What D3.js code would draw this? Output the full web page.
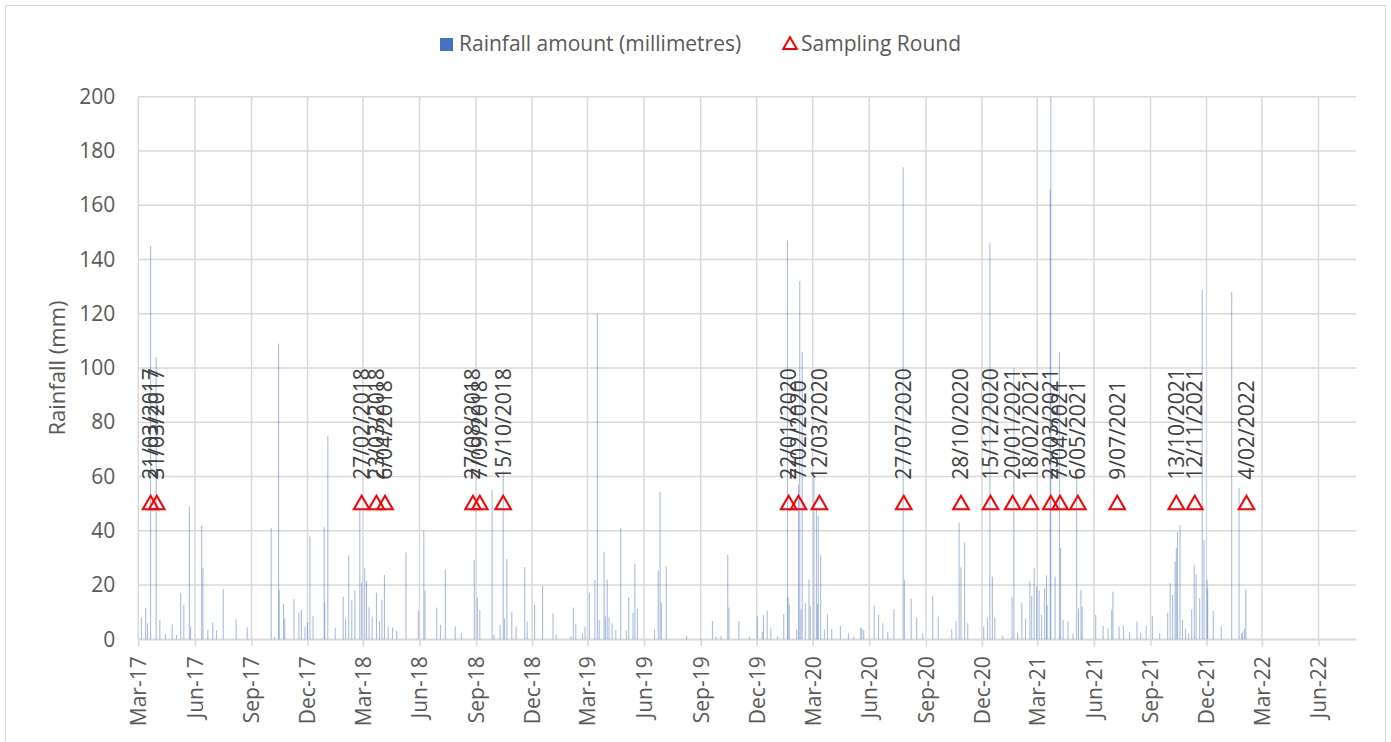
<!DOCTYPE html>
<html><head><meta charset="utf-8">
<script src="https://cdn.jsdelivr.net/npm/d3@7"></script>
<style>body{margin:0;background:#fff;} svg{display:block;font-family:"Open Sans",sans-serif;}</style>
</head><body><svg id="c" width="1391" height="742"></svg>
<script>
const rainDates = [
"2017-03-06","2017-03-13","2017-03-16","2017-03-21","2017-03-30","2017-04-05","2017-04-14","2017-04-25","2017-05-02","2017-05-09",
"2017-05-14","2017-05-23","2017-05-25","2017-06-12","2017-06-14","2017-06-22","2017-06-30","2017-07-06","2017-07-17","2017-08-07",
"2017-08-25","2017-10-03","2017-10-08","2017-10-15","2017-10-16","2017-10-23","2017-10-25","2017-11-09","2017-11-17","2017-11-21",
"2017-11-27","2017-12-01","2017-12-05","2017-12-10","2017-12-28","2017-12-29","2018-01-03","2018-01-15","2018-01-28","2018-02-01",
"2018-02-06","2018-02-11","2018-02-16","2018-02-24","2018-02-27","2018-03-04","2018-03-07","2018-03-11","2018-03-16","2018-03-23",
"2018-03-28","2018-04-01","2018-04-05","2018-04-11","2018-04-18","2018-04-25","2018-05-10","2018-05-30","2018-06-08","2018-06-10",
"2018-06-29","2018-07-05","2018-07-13","2018-07-29","2018-08-08","2018-08-29","2018-09-03","2018-09-07","2018-09-27","2018-09-30",
"2018-10-10","2018-10-15","2018-10-17","2018-10-21","2018-10-29","2018-11-05","2018-11-19","2018-11-23","2018-12-05","2018-12-18",
"2019-01-04","2019-01-09","2019-02-02","2019-02-06","2019-02-10","2019-02-21","2019-02-25","2019-03-04","2019-03-13","2019-03-17",
"2019-03-20","2019-03-28","2019-03-30","2019-04-02","2019-04-05","2019-04-10","2019-04-16","2019-04-24","2019-05-03","2019-05-07",
"2019-05-14","2019-05-17","2019-05-21","2019-06-18","2019-06-24","2019-06-27","2019-06-29","2019-07-07","2019-08-09","2019-09-01",
"2019-09-20","2019-09-26","2019-10-04","2019-10-15","2019-10-17","2019-11-02","2019-11-19","2019-12-02","2019-12-10","2019-12-12",
"2019-12-18","2019-12-24","2020-01-04","2020-01-14","2020-01-20","2020-01-21","2020-01-23","2020-02-04","2020-02-07","2020-02-09",
"2020-02-11","2020-02-13","2020-02-18","2020-02-24","2020-02-26","2020-03-03","2020-03-07","2020-03-09","2020-03-10","2020-03-14",
"2020-03-20","2020-03-25","2020-04-01","2020-04-15","2020-04-28","2020-05-07","2020-05-18","2020-05-20","2020-05-23","2020-06-09",
"2020-06-16","2020-06-23","2020-07-01","2020-07-11","2020-07-26","2020-07-28","2020-08-08","2020-08-17","2020-08-27","2020-09-12",
"2020-09-21","2020-10-13","2020-10-20","2020-10-25","2020-10-28","2020-11-03","2020-11-08","2020-12-04","2020-12-10","2020-12-14",
"2020-12-18","2020-12-22","2021-01-04","2021-01-19","2021-01-22","2021-01-28","2021-02-04","2021-02-10","2021-02-17","2021-02-20",
"2021-02-24","2021-02-28","2021-03-04","2021-03-08","2021-03-13","2021-03-16","2021-03-17","2021-03-22","2021-03-23","2021-03-30",
"2021-04-06","2021-04-08","2021-04-12","2021-04-20","2021-04-28","2021-05-04","2021-05-07","2021-05-11","2021-05-13","2021-06-04",
"2021-06-16","2021-06-24","2021-06-30","2021-07-02","2021-07-12","2021-07-19","2021-07-29","2021-08-10","2021-08-16","2021-08-25",
"2021-09-04","2021-09-16","2021-09-29","2021-10-03","2021-10-07","2021-10-11","2021-10-13","2021-10-15","2021-10-19","2021-10-23",
"2021-10-28","2021-11-02","2021-11-07","2021-11-11","2021-11-14","2021-11-20","2021-11-24","2021-11-27","2021-12-02","2021-12-03",
"2021-12-12","2021-12-25","2022-01-11","2022-01-23","2022-01-27","2022-01-29","2022-02-01","2022-02-03"
];
const rainMm = [
8.1,11.6,5.9,145,104,7.1,2,5.5,1.6,17,
12.7,49,4.7,41.8,26.2,3.4,6.3,3.4,18.5,7.4,
4.4,41,1,109,18.2,13,7.7,14.8,9.8,10.8,
4.7,6.3,37.9,8.6,41.3,13.5,75,4.3,15.7,7.7,
30.9,14.5,18,48,21,26.2,21.5,11.8,8.4,17.2,
6.5,14.5,23.7,4.7,4.4,3.2,32,10.6,40.1,18,
11.7,5.3,25.8,4.7,2.2,29.3,15.5,10.8,55,1.6,
5.3,62,7.7,29.6,10.2,4.7,26.6,6.5,12.7,19.7,
9.6,1.6,1.2,11.7,5.7,2.2,4.7,17.2,21.9,120,
7.1,32.3,8.4,22.1,8.1,5.9,3.4,41,3.2,15.4,
9.8,27.8,11.4,3.7,25.3,54.4,13.5,26.8,1.2,0.4,
6.8,1,1.2,31.1,11.7,6.8,1,8.4,2.8,9,
10.6,4,1.2,9.3,147,15.7,12.8,3.7,57,132,
11,106,13.3,22.1,12.3,60,48,13,45.5,31,
3.7,9.2,3.8,4.9,2.2,1,4.3,4,3.4,12.3,
9,5.9,2.8,11.1,174,21.9,14.9,8,2.2,16,
8.4,3.7,6.8,43,26.5,35.7,5.9,4.7,8,146,
23.1,8.1,1.2,15.4,100,2.5,13.5,7.7,21.3,16,
26.2,19.4,18,9,18.8,23.6,12.7,166,200,23.1,
106,33.6,7.1,6.5,2.2,62,11.4,18.2,12,9,
5,4,10.8,17.6,4.7,5,2.8,6.5,2.5,4.9,
8.6,2.2,9.8,20.7,16.4,28.7,33.5,39.7,42.2,7.1,
4,2.2,11.1,27.5,24,15.1,129,36.5,22,18.5,
10.5,4.7,128,55.7,2.2,3,4,18.4
];
const samplingDates = [
"2017-03-21","2017-03-31","2018-02-27","2018-03-23","2018-04-06","2018-08-27","2018-09-07","2018-10-15",
"2020-01-22","2020-02-07","2020-03-12","2020-07-27","2020-10-28","2020-12-15","2021-01-20","2021-02-18",
"2021-03-23","2021-04-07","2021-05-06","2021-07-09","2021-10-13","2021-11-12","2022-02-04"
];
const samplingLabels = [
"21/03/2017","31/03/2017","27/02/2018","23/03/2018","6/04/2018","27/08/2018","7/09/2018","15/10/2018",
"22/01/2020","7/02/2020","12/03/2020","27/07/2020","28/10/2020","15/12/2020","20/01/2021","18/02/2021",
"23/03/2021","7/04/2021","6/05/2021","9/07/2021","13/10/2021","12/11/2021","4/02/2022"
];
const samplingValues = samplingDates.map(() => 50);
const xTickDates = ["2017-03-01","2017-06-01","2017-09-01","2017-12-01","2018-03-01","2018-06-01","2018-09-01","2018-12-01",
"2019-03-01","2019-06-01","2019-09-01","2019-12-01","2020-03-01","2020-06-01","2020-09-01","2020-12-01",
"2021-03-01","2021-06-01","2021-09-01","2021-12-01","2022-03-01","2022-06-01"];
const yTicks = [0,20,40,60,80,100,120,140,160,180,200];
const legendLabels = ["Rainfall amount (millimetres)","Sampling Round"];
const yTitle = "Rainfall (mm)";

const parse = d3.utcParse("%Y-%m-%d");
const fmt = d3.utcFormat("%b-%y");
const svg = d3.select("#c");
const GRID = "#d9d9d9";

const x = d3.scaleUtc().domain([parse("2017-03-01"), parse("2022-08-01")]).range([138.3, 1356]);
const y = d3.scaleLinear().domain([0,200]).range([639.3, 96.7]);

// chart border
svg.append("rect").attr("x",5.5).attr("y",5.5).attr("width",1380).attr("height",760)
  .attr("fill","none").attr("stroke",GRID).attr("stroke-width",1);

// horizontal grid
svg.append("g").selectAll("line").data(yTicks).join("line")
  .attr("x1",x.range()[0]).attr("x2",x.range()[1])
  .attr("y1",d=>y(d)).attr("y2",d=>y(d))
  .attr("stroke",GRID).attr("stroke-width",1.5);
// vertical grid
svg.append("g").selectAll("line").data(xTickDates.map(parse)).join("line")
  .attr("x1",d=>x(d)).attr("x2",d=>x(d))
  .attr("y1",y(200)).attr("y2",y(0))
  .attr("stroke",GRID).attr("stroke-width",1.5);

// x axis
const xa = svg.append("g").attr("transform",`translate(0,${y(0)})`)
  .call(d3.axisBottom(x).tickValues(xTickDates.map(parse)).tickFormat(fmt).tickSize(7).tickSizeOuter(0));
xa.select(".domain").attr("stroke",GRID).attr("stroke-width",1.5);
xa.selectAll(".tick line").attr("stroke",GRID).attr("stroke-width",1.5);
xa.selectAll(".tick text").attr("transform","rotate(-90)").attr("x",-17).attr("y",0).attr("dy","0.35em")
  .attr("text-anchor","end").attr("fill","#595959").style("font-size","21px").style("font-family","'Open Sans',sans-serif");

// y axis
const ya = svg.append("g").attr("transform",`translate(${x.range()[0]},0)`)
  .call(d3.axisLeft(y).tickValues(yTicks).tickSize(0).tickPadding(23));
ya.select(".domain").remove();
ya.selectAll(".tick text").attr("fill","#595959").style("font-size","21px").style("font-family","'Open Sans',sans-serif");

svg.append("text").attr("transform",`translate(57,${(y(0)+y(200))/2}) rotate(-90)`)
  .attr("text-anchor","middle").attr("dy","0.35em").attr("fill","#595959").style("font-size","22px").text(yTitle);

// bars
const rain = rainDates.map((d,i)=>({date:parse(d), v:rainMm[i]}));
svg.append("g").selectAll("rect").data(rain).join("rect")
  .attr("x",d=>x(d.date)-0.5).attr("width",1)
  .attr("y",d=>y(Math.min(d.v,200))).attr("height",d=>y(0)-y(Math.min(d.v,200)))
  .attr("fill","#4472C4").attr("fill-opacity",0.5);

// sampling triangles
const samp = samplingDates.map((d,i)=>({date:parse(d), v:samplingValues[i], label:samplingLabels[i]}));
const tri = d3.symbol(d3.symbolTriangle, 105);
svg.append("g").selectAll("path").data(samp).join("path")
  .attr("d",tri).attr("transform",d=>`translate(${x(d.date)},${y(d.v)+1})`)
  .attr("fill","none").attr("stroke","#ff0000").attr("stroke-width",2);

// labels
svg.append("g").selectAll("text").data(samp).join("text")
  .attr("transform",d=>`translate(${x(d.date)},${y(d.v)-24}) rotate(-90)`)
  .attr("dy","0.35em").attr("text-anchor","start").attr("fill","#404040").style("font-size","21px")
  .text(d=>d.label);

// legend
const lg = svg.append("g");
lg.append("rect").attr("x",440).attr("y",38).attr("width",13).attr("height",13).attr("fill","#4472C4");
lg.append("text").attr("x",459).attr("y",51).attr("fill","#595959").style("font-size","21px").text(legendLabels[0]);
lg.append("path").attr("d",d3.symbol(d3.symbolTriangle, 80)).attr("transform","translate(790,45)")
  .attr("fill","none").attr("stroke","#ff0000").attr("stroke-width",2);
lg.append("text").attr("x",801).attr("y",51).attr("fill","#595959").style("font-size","21px").text(legendLabels[1]);
</script>
</body></html>
